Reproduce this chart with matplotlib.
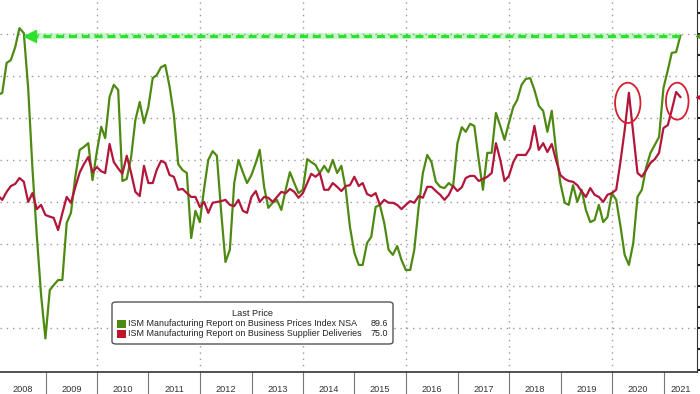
import numpy as np
import pandas as pd
import matplotlib
matplotlib.use('Agg')
import matplotlib.pyplot as plt
import matplotlib.dates as mdates
from matplotlib.patches import Ellipse, FancyBboxPatch
from matplotlib import rcParams
rcParams['font.family'] = ['Liberation Sans', 'DejaVu Sans']
rcParams['font.size'] = 6.4

# monthly, end of month, Jan 2008 .. Apr 2021
dates = pd.date_range('2008-01-31', '2021-04-30', freq='ME')

prices = [
    75.5, 76.0, 83.1, 83.8, 86.9, 91.4, 90.2, 77.0, 58.0, 42.0, 28.0, 17.5,   # 2008
    29.0, 30.2, 31.4, 31.4, 45.0, 47.4, 56.0, 62.4, 63.1, 64.0, 55.2, 62.0,   # 2009
    67.9, 65.2, 75.0, 77.9, 76.7, 55.0, 55.5, 60.7, 69.5, 73.8, 68.8, 72.6,   # 2010
    79.5, 80.2, 82.1, 82.6, 77.4, 70.7, 59.0, 57.6, 56.9, 41.4, 47.9, 45.2,   # 2011
    53.3, 60.0, 62.1, 61.0, 47.4, 35.7, 38.6, 54.5, 60.0, 57.1, 54.5, 56.4,   # 2012
    59.3, 62.4, 53.6, 48.6, 49.8, 50.5, 48.1, 52.9, 57.1, 54.5, 52.1, 52.9,   # 2013
    60.2, 59.5, 58.8, 56.9, 58.6, 57.1, 60.0, 56.9, 58.6, 53.0, 44.0, 37.9,   # 2014
    35.0, 35.0, 40.2, 41.7, 48.8, 49.3, 45.0, 38.6, 37.4, 39.5, 36.2, 33.8,   # 2015
    33.8, 38.6, 48.8, 56.9, 61.2, 59.5, 54.8, 53.6, 53.3, 54.5, 53.6, 64.0,   # 2016
    67.8, 66.7, 68.6, 68.1, 60.0, 52.9, 61.7, 61.7, 71.2, 68.1, 64.8, 68.8,   # 2017
    72.6, 74.3, 77.9, 79.3, 79.5, 76.7, 72.9, 71.7, 66.7, 71.7, 62.4, 54.5,   # 2018
    49.8, 49.3, 54.0, 50.0, 52.9, 48.1, 45.2, 45.7, 49.3, 45.2, 46.4, 52.1,   # 2019
    50.5, 44.5, 37.4, 35.0, 40.2, 51.2, 52.9, 58.3, 61.7, 63.6, 65.5, 77.1,   # 2020
    81.4, 85.5, 85.7, 89.6,                                                   # 2021
]

deliveries = [
    51.5, 50.5, 52.4, 53.8, 54.3, 55.7, 54.8, 50.0, 52.1, 48.3, 49.3, 46.9,   # 2008
    46.5, 46.2, 43.3, 47.3, 51.2, 49.8, 53.5, 57.0, 59.0, 60.7, 57.1, 58.3,   # 2009
    57.3, 56.9, 63.8, 59.5, 58.0, 56.7, 61.0, 56.9, 52.4, 51.4, 58.6, 54.5,   # 2010
    54.5, 57.6, 59.8, 59.3, 56.4, 56.0, 52.9, 53.1, 52.1, 51.2, 51.2, 48.8,   # 2011
    50.0, 47.4, 49.8, 50.0, 50.2, 50.5, 49.3, 49.0, 50.5, 47.9, 47.4, 51.2,   # 2012
    52.6, 50.0, 51.2, 51.0, 50.0, 51.2, 52.4, 52.1, 53.1, 52.4, 51.0, 52.1,   # 2013
    54.5, 56.7, 56.0, 56.9, 52.9, 52.9, 54.5, 53.6, 52.6, 53.8, 54.0, 56.0,   # 2014
    53.8, 54.5, 51.9, 51.4, 52.1, 49.3, 50.5, 49.8, 49.8, 49.3, 48.3, 49.3,   # 2015
    50.2, 49.8, 51.4, 51.0, 53.6, 53.6, 52.6, 51.7, 50.5, 51.7, 53.8, 52.6,   # 2016
    53.5, 55.7, 56.2, 56.2, 55.0, 55.5, 56.0, 56.9, 64.0, 60.0, 55.0, 56.2,   # 2017
    59.5, 61.2, 61.2, 61.2, 62.9, 68.1, 62.4, 64.0, 61.9, 63.8, 60.0, 56.4,   # 2018
    55.5, 55.0, 54.8, 54.0, 52.5, 51.2, 53.3, 51.7, 51.2, 50.0, 51.7, 52.1,   # 2019
    52.9, 59.3, 67.1, 76.0, 66.4, 56.9, 56.0, 57.6, 59.3, 60.2, 61.7, 67.6,   # 2020
    68.3, 71.9, 76.2, 75.0,                                                   # 2021
]

years = list(range(2008, 2022))
series_names = ['ISM Manufacturing Report on Business Prices Index NSA',
                'ISM Manufacturing Report on Business Supplier Deliveries']
last_values = ['89.6', '75.0']

GREEN = '#4e8a12'
RED = '#b2163a'
LIME = '#2ee02e'
W, H = 700, 394


def fx(px):
    return px / W


def fy(py):
    return 1 - py / H


def main():
    fig = plt.figure(figsize=(7, 3.94), dpi=100)
    ax = fig.add_axes([0, fy(372), fx(697), fy(0) - fy(372)])

    x0 = pd.Timestamp('2008-02-13')
    x1 = pd.Timestamp('2021-08-26')
    ax.set_xlim(x0, x1)
    ax.set_ylim(9.5, 98.1)

    # dotted grid
    for lev in range(20, 100, 10):
        ax.axhline(lev, color='#999999', lw=1, ls=(0, (1, 3.5)), zorder=1)
    for yr in range(2010, 2022, 2):
        ax.axvline(pd.Timestamp(f'{yr}-01-01'), color='#999999', lw=1,
                   ls=(0, (1, 3.5)), zorder=1)

    ax.plot(dates, prices, color=GREEN, lw=1.6, zorder=3)
    ax.plot(dates, deliveries, color=RED, lw=1.6, zorder=4)

    # dashed level line from the 2008 peak to the latest print
    level = prices[-1]
    tip = pd.Timestamp('2008-09-10')
    ax.plot([tip, dates[-1]], [level, level], color=LIME, lw=4.5, alpha=0.25,
            solid_capstyle='butt', zorder=5)
    ax.plot([tip, dates[-1]], [level, level], color=LIME, lw=2.2,
            dashes=(2.6, 1.6), zorder=6)
    ax.plot([tip], [level], marker='<', ms=8, color=LIME, mec=LIME, zorder=6)

    # red circles round the 2020 spike and the latest print
    peak = len(deliveries) - 13
    e1 = Ellipse((mdates.date2num(dates[peak]) - 8, deliveries[peak] - 2.4),
                 180, 9.6, fill=False, ec='#d42030', lw=1.3, zorder=7)
    e2 = Ellipse((mdates.date2num(dates[-1]) - 22, deliveries[-1] - 1.0),
                 160, 8.8, fill=False, ec='#d42030', lw=1.3, zorder=7)
    ax.add_patch(e1)
    ax.add_patch(e2)

    # last-price tags on right edge, cut off by the crop
    tag_x = x1 + pd.Timedelta(days=32)
    ax.plot([tag_x], [prices[-1]], marker='<', ms=8, color='#4e9a1a',
            clip_on=False, zorder=8)
    ax.plot([tag_x], [deliveries[-1]], marker='<', ms=8, color='#c0143c',
            clip_on=False, zorder=8)

    # spines / ticks
    for s in ['top', 'left']:
        ax.spines[s].set_visible(False)
    ax.spines['right'].set_color('#333333')
    ax.spines['bottom'].set_color('#333333')
    ax.spines['bottom'].set_linewidth(1.2)
    ax.yaxis.tick_right()
    ax.set_yticks(np.arange(10, 100, 5))
    ax.set_yticklabels([])
    ax.tick_params(axis='y', length=3, width=1.5, color='#222222')

    ax.set_xticks([pd.Timestamp(f'{y}-01-01') for y in years[1:]])
    ax.set_xticklabels([])
    ax.tick_params(axis='x', which='major', length=16, width=0.8,
                   color='#777777', direction='out')
    centers = []
    for y in years:
        a = max(pd.Timestamp(f'{y}-01-01'), x0)
        b = min(pd.Timestamp(f'{y + 1}-01-01'), x1)
        centers.append(a + (b - a) / 2)
    ax.set_xticks(centers, minor=True)
    ax.set_xticklabels([str(y) for y in years], minor=True)
    ax.tick_params(axis='x', which='minor', length=0, pad=9.5,
                   labelsize=6.6, labelcolor='#333333')

    # legend box
    box = FancyBboxPatch((fx(112), fy(344)), fx(393) - fx(112), fy(302) - fy(344),
                         boxstyle='round,pad=0,rounding_size=0.006',
                         transform=fig.transFigure, fc='white', ec='#555555',
                         lw=1, zorder=10)
    fig.patches.append(box)
    fig.text(fx(252), fy(313), 'Last Price', ha='center', va='center',
             fontsize=6.6, color='#222222', zorder=11)
    for i, (name, val, col) in enumerate(zip(series_names, last_values,
                                             [GREEN, '#c0142c'])):
        yy = 323.5 + i * 10.5
        fig.patches.append(plt.Rectangle((fx(117), fy(yy + 4)), fx(9), fy(0) - fy(8),
                                         transform=fig.transFigure, fc=col,
                                         ec='none', zorder=11))
        fig.text(fx(128), fy(yy), name, ha='left', va='center', fontsize=6.4,
                 color='#222222', zorder=11)
        fig.text(fx(388), fy(yy), val, ha='right', va='center', fontsize=6.4,
                 color='#222222', zorder=11)

    fig.savefig('out.png', dpi=100, facecolor='white')


if __name__ == '__main__':
    main()
